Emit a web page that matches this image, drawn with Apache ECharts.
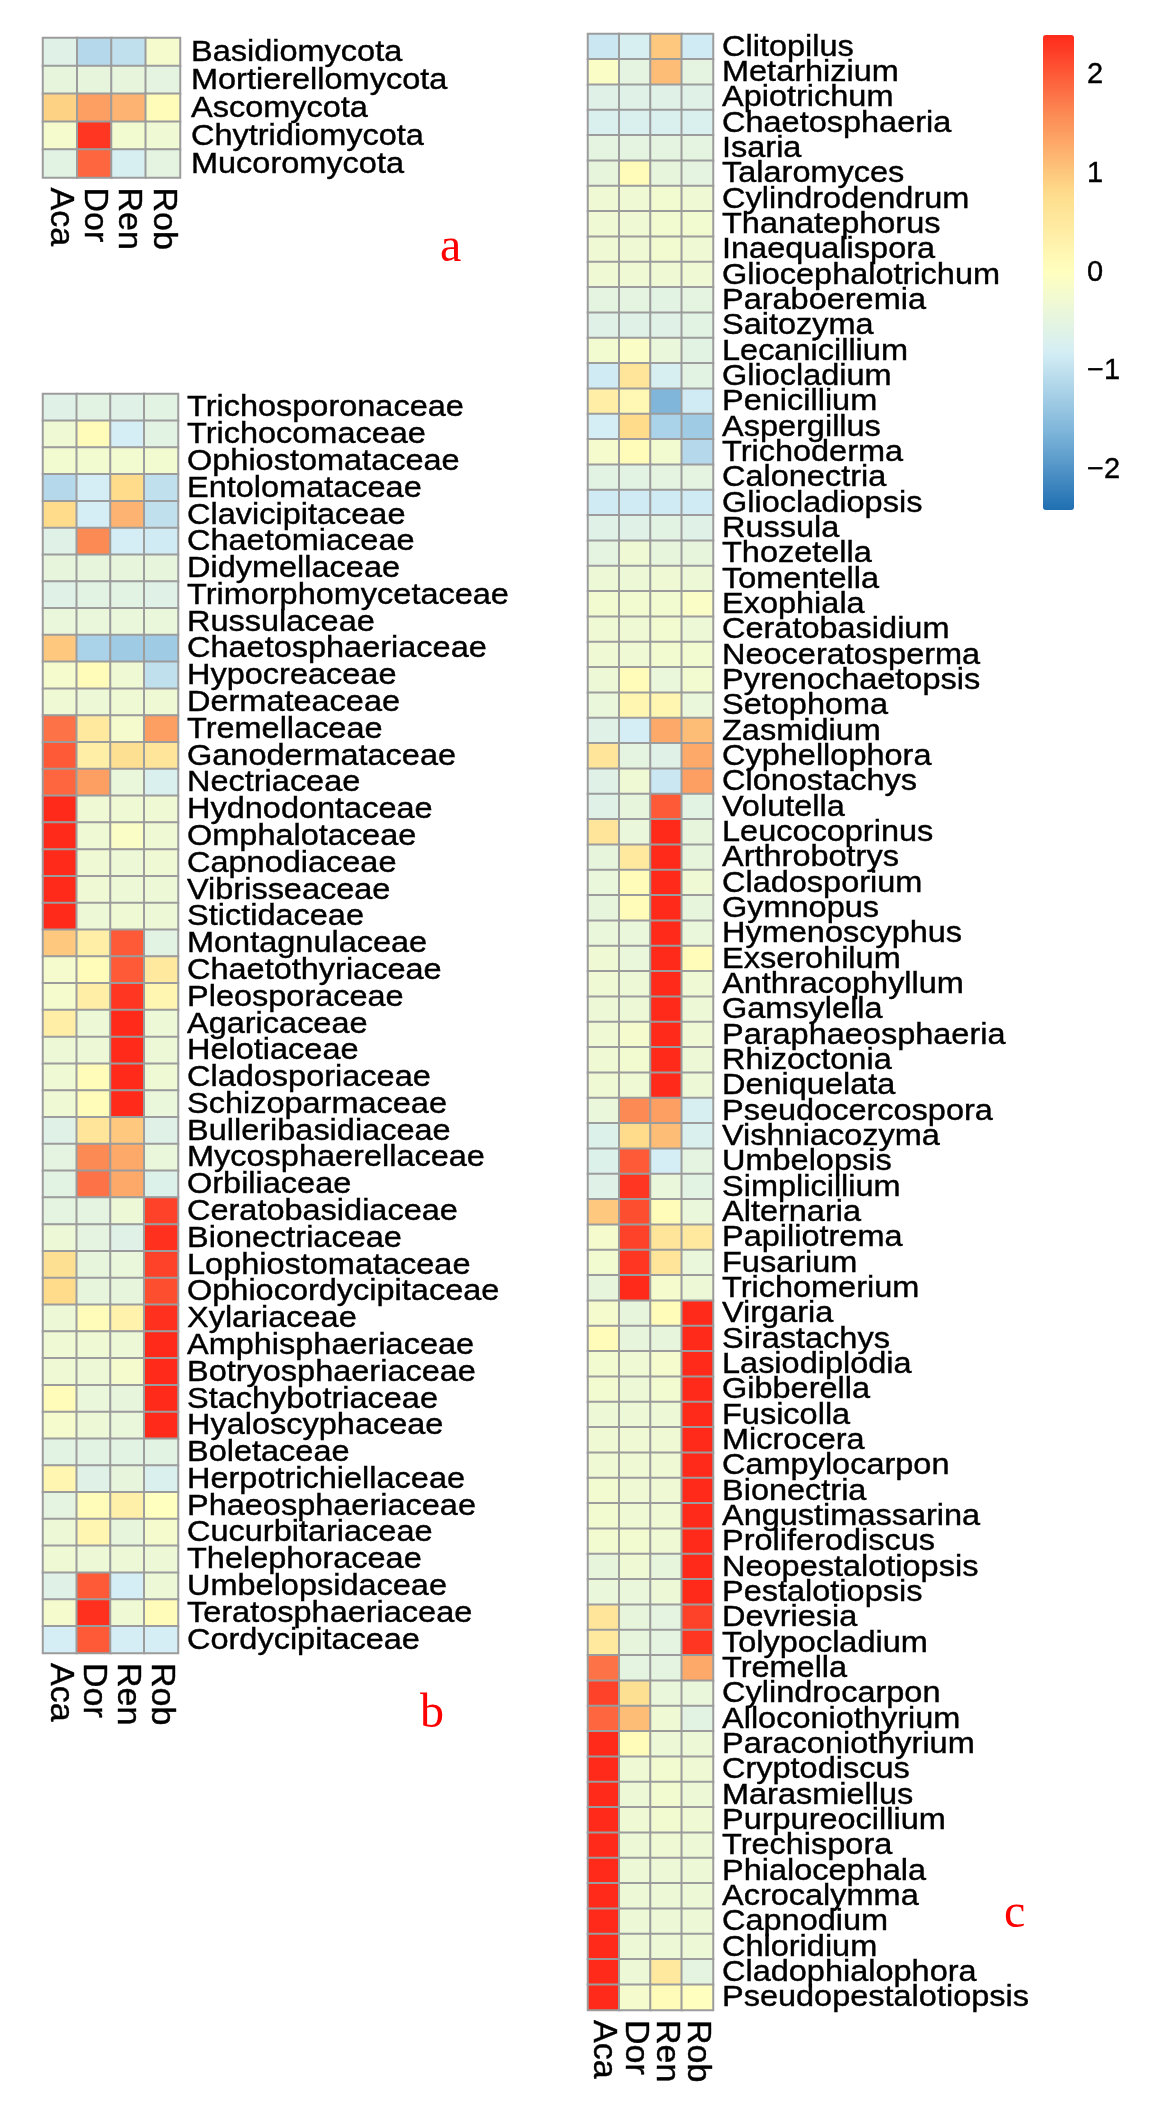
<!DOCTYPE html>
<html style="height: 100%">

<head>
  <meta charset="utf-8">
  <title>heatmap</title>
</head>

<body style="height: 100%; margin: 0; background: #fff">
  <div id="container" style="width: 1156px; height: 2101px"></div>
  <script type="text/javascript" src="https://cdn.jsdelivr.net/npm/echarts@6/dist/echarts.min.js"></script>
  <script type="text/javascript">
    // samples (columns)
    const samples = ['Aca', 'Dor', 'Ren', 'Rob'];

    // a: phylum
    const phylumRows = ['Basidiomycota', 'Mortierellomycota', 'Ascomycota', 'Chytridiomycota', 'Mucoromycota'];
    const phylumValues = [
      [-0.6, -1.1, -1.0, -0.2],
      [-0.45, -0.45, -0.45, -0.5],
      [0.9, 1.4, 1.2, 0.1],
      [-0.2, 2.3, -0.25, -0.3],
      [-0.55, 1.9, -0.75, -0.5]
    ];

    // b: family
    const familyRows = ['Trichosporonaceae', 'Trichocomaceae', 'Ophiostomataceae', 'Entolomataceae', 'Clavicipitaceae',
      'Chaetomiaceae', 'Didymellaceae', 'Trimorphomycetaceae', 'Russulaceae', 'Chaetosphaeriaceae', 'Hypocreaceae',
      'Dermateaceae', 'Tremellaceae', 'Ganodermataceae', 'Nectriaceae', 'Hydnodontaceae', 'Omphalotaceae',
      'Capnodiaceae', 'Vibrisseaceae', 'Stictidaceae', 'Montagnulaceae', 'Chaetothyriaceae', 'Pleosporaceae',
      'Agaricaceae', 'Helotiaceae', 'Cladosporiaceae', 'Schizoparmaceae', 'Bulleribasidiaceae', 'Mycosphaerellaceae',
      'Orbiliaceae', 'Ceratobasidiaceae', 'Bionectriaceae', 'Lophiostomataceae', 'Ophiocordycipitaceae', 'Xylariaceae',
      'Amphisphaeriaceae', 'Botryosphaeriaceae', 'Stachybotriaceae', 'Hyaloscyphaceae', 'Boletaceae',
      'Herpotrichiellaceae', 'Phaeosphaeriaceae', 'Cucurbitariaceae', 'Thelephoraceae', 'Umbelopsidaceae',
      'Teratosphaeriaceae', 'Cordycipitaceae'];
    const familyValues = [
      [-0.6, -0.55, -0.6, -0.55],
      [-0.3, 0.1, -0.8, -0.55],
      [-0.25, -0.25, -0.25, -0.25],
      [-1.1, -0.8, 0.8, -1.0],
      [0.8, -0.8, 1.2, -1.0],
      [-0.6, 1.6, -0.8, -0.85],
      [-0.45, -0.45, -0.45, -0.45],
      [-0.6, -0.55, -0.55, -0.6],
      [-0.4, -0.4, -0.4, -0.4],
      [1.0, -1.2, -1.3, -1.3],
      [-0.2, 0.1, -0.3, -1.0],
      [-0.3, -0.35, -0.3, -0.3],
      [1.8, 0.5, -0.2, 1.4],
      [2.0, 0.4, 0.7, 0.6],
      [1.9, 1.4, -0.4, -0.7],
      [2.4, -0.3, -0.3, -0.3],
      [2.4, -0.3, -0.1, -0.3],
      [2.4, -0.3, -0.35, -0.3],
      [2.4, -0.3, -0.35, -0.35],
      [2.4, -0.35, -0.3, -0.35],
      [1.0, 0.4, 2.0, -0.55],
      [-0.2, 0.1, 2.0, 0.5],
      [-0.2, 0.4, 2.3, 0.2],
      [0.4, -0.35, 2.4, -0.35],
      [-0.35, -0.35, 2.4, -0.35],
      [-0.3, 0.1, 2.4, -0.3],
      [-0.3, 0.1, 2.4, -0.4],
      [-0.6, 0.6, 1.0, -0.6],
      [-0.5, 1.6, 1.3, -0.4],
      [-0.55, 1.8, 1.3, -0.65],
      [-0.5, -0.5, -0.35, 2.2],
      [-0.35, -0.5, -0.6, 2.35],
      [0.7, -0.45, -0.4, 2.2],
      [0.8, -0.45, -0.45, 2.1],
      [-0.35, 0.1, 0.3, 2.35],
      [-0.3, -0.3, -0.35, 2.4],
      [-0.3, -0.35, -0.2, 2.4],
      [0.1, -0.4, -0.45, 2.4],
      [-0.2, -0.35, -0.4, 2.4],
      [-0.55, -0.55, -0.55, -0.55],
      [0.2, -0.6, -0.45, -0.7],
      [-0.5, 0.1, 0.35, 0.0],
      [-0.35, 0.2, -0.45, -0.2],
      [-0.3, -0.35, -0.35, -0.35],
      [-0.6, 2.0, -0.8, -0.35],
      [-0.2, 2.35, -0.3, 0.1],
      [-0.8, 2.0, -0.8, -0.8]
    ];

    // c: genus
    const genusRows = ['Clitopilus', 'Metarhizium', 'Apiotrichum', 'Chaetosphaeria', 'Isaria', 'Talaromyces',
      'Cylindrodendrum', 'Thanatephorus', 'Inaequalispora', 'Gliocephalotrichum', 'Paraboeremia', 'Saitozyma',
      'Lecanicillium', 'Gliocladium', 'Penicillium', 'Aspergillus', 'Trichoderma', 'Calonectria', 'Gliocladiopsis',
      'Russula', 'Thozetella', 'Tomentella', 'Exophiala', 'Ceratobasidium', 'Neoceratosperma', 'Pyrenochaetopsis',
      'Setophoma', 'Zasmidium', 'Cyphellophora', 'Clonostachys', 'Volutella', 'Leucocoprinus', 'Arthrobotrys',
      'Cladosporium', 'Gymnopus', 'Hymenoscyphus', 'Exserohilum', 'Anthracophyllum', 'Gamsylella',
      'Paraphaeosphaeria', 'Rhizoctonia', 'Deniquelata', 'Pseudocercospora', 'Vishniacozyma', 'Umbelopsis',
      'Simplicillium', 'Alternaria', 'Papiliotrema', 'Fusarium', 'Trichomerium', 'Virgaria', 'Sirastachys',
      'Lasiodiplodia', 'Gibberella', 'Fusicolla', 'Microcera', 'Campylocarpon', 'Bionectria', 'Angustimassarina',
      'Proliferodiscus', 'Neopestalotiopsis', 'Pestalotiopsis', 'Devriesia', 'Tolypocladium', 'Tremella',
      'Cylindrocarpon', 'Alloconiothyrium', 'Paraconiothyrium', 'Cryptodiscus', 'Marasmiellus', 'Purpureocillium',
      'Trechispora', 'Phialocephala', 'Acrocalymma', 'Capnodium', 'Chloridium', 'Cladophialophora',
      'Pseudopestalotiopsis'];
    const genusValues = [
      [-0.9, -0.75, 1.0, -0.85],
      [-0.1, -0.5, 1.1, -0.5],
      [-0.6, -0.6, -0.6, -0.6],
      [-0.7, -0.7, -0.7, -0.7],
      [-0.5, -0.5, -0.5, -0.5],
      [-0.45, 0.1, -0.45, -0.5],
      [-0.3, -0.3, -0.25, -0.3],
      [-0.3, -0.3, -0.25, -0.25],
      [-0.3, -0.3, -0.25, -0.3],
      [-0.3, -0.3, -0.3, -0.3],
      [-0.5, -0.5, -0.55, -0.5],
      [-0.6, -0.6, -0.6, -0.55],
      [-0.25, -0.1, -0.4, -0.55],
      [-0.85, 0.6, -0.75, -0.55],
      [0.4, 0.15, -1.6, -0.85],
      [-0.8, 0.8, -1.2, -1.3],
      [-0.2, 0.1, -0.25, -1.1],
      [-0.55, -0.55, -0.5, -0.5],
      [-0.85, -0.85, -0.85, -0.85],
      [-0.6, -0.6, -0.55, -0.6],
      [-0.5, -0.3, -0.45, -0.45],
      [-0.35, -0.35, -0.3, -0.35],
      [-0.25, -0.25, -0.25, -0.1],
      [-0.3, -0.3, -0.25, -0.35],
      [-0.3, -0.3, -0.25, -0.25],
      [-0.35, 0.1, -0.4, -0.25],
      [-0.4, 0.2, 0.2, -0.4],
      [-0.6, -0.8, 1.3, 1.1],
      [0.6, -0.5, -0.6, 1.3],
      [-0.6, -0.3, -0.9, 1.4],
      [-0.6, -0.45, 2.0, -0.55],
      [0.6, -0.4, 2.4, -0.45],
      [-0.45, 0.5, 2.4, -0.45],
      [-0.4, 0.1, 2.4, -0.3],
      [-0.45, 0.1, 2.4, -0.45],
      [-0.4, -0.4, 2.4, -0.4],
      [-0.3, -0.4, 2.4, 0.1],
      [-0.3, -0.35, 2.4, -0.3],
      [-0.35, -0.35, 2.4, -0.35],
      [-0.3, -0.2, 2.4, -0.3],
      [-0.3, -0.25, 2.4, -0.35],
      [-0.3, -0.3, 2.4, -0.35],
      [-0.4, 1.6, 1.4, -0.75],
      [-0.65, 0.8, 1.1, -0.7],
      [-0.65, 2.0, -0.8, -0.5],
      [-0.6, 2.3, -0.4, -0.55],
      [1.0, 2.1, 0.1, -0.4],
      [-0.2, 2.2, 0.6, 0.5],
      [-0.25, 2.3, 0.6, -0.4],
      [-0.45, 2.4, -0.2, -0.35],
      [-0.2, -0.45, 0.1, 2.4],
      [0.1, -0.45, -0.45, 2.4],
      [-0.25, -0.3, -0.2, 2.4],
      [-0.25, -0.35, -0.25, 2.4],
      [-0.35, -0.35, -0.35, 2.4],
      [-0.3, -0.3, -0.3, 2.4],
      [-0.3, -0.3, -0.3, 2.4],
      [-0.25, -0.3, -0.3, 2.4],
      [-0.25, -0.3, -0.3, 2.4],
      [-0.25, -0.25, -0.3, 2.4],
      [-0.45, -0.3, -0.45, 2.4],
      [-0.4, -0.4, -0.35, 2.4],
      [0.6, -0.45, -0.5, 2.2],
      [0.5, -0.45, -0.5, 2.3],
      [1.8, -0.5, -0.5, 1.3],
      [2.2, 0.7, -0.4, -0.4],
      [1.9, 1.1, -0.3, -0.55],
      [2.4, 0.1, -0.35, -0.35],
      [2.4, -0.3, -0.25, -0.3],
      [2.4, -0.35, -0.25, -0.35],
      [2.4, -0.3, -0.25, -0.3],
      [2.4, -0.35, -0.3, -0.35],
      [2.4, -0.35, -0.35, -0.35],
      [2.4, -0.35, -0.35, -0.35],
      [2.4, -0.35, -0.35, -0.35],
      [2.4, -0.35, -0.35, -0.35],
      [2.4, -0.35, 0.5, -0.5],
      [2.4, -0.2, 0.1, 0.0]
    ];

    // colour key
    const scaleMin = -2.4;
    const scaleMax = 2.4;
    const legendTicks = [-2, -1, 0, 1, 2];

    let dom = document.getElementById('container');
    let myChart = echarts.init(dom, null, { renderer: 'canvas' });

    const font = 'Liberation Sans';
    const ink = '#000';

    // [col, row, value] triples for the heatmap
    function cells(values) {
      const out = [];
      values.forEach((row, i) => row.forEach((v, j) => out.push([j, i, v])));
      return out;
    }

    function sampleAxis(gridIndex) {
      return {
        type: 'category', gridIndex, data: samples, position: 'bottom',
        axisLine: { show: false }, axisTick: { show: false }, splitLine: { show: false },
        axisLabel: {
          interval: 0, rotate: -90, margin: 10, fontSize: 34, color: ink, fontFamily: font,
          textBorderColor: ink, textBorderWidth: 0.4
        }
      };
    }

    // row labels drawn by a custom series so they can be stretched a bit like the original
    function rowAxis(gridIndex, rows) {
      return {
        type: 'category', gridIndex, data: rows, inverse: true, position: 'right',
        axisLine: { show: false }, axisTick: { show: false }, splitLine: { show: false },
        axisLabel: { show: false }
      };
    }

    function heat(idx, values) {
      return {
        type: 'heatmap', xAxisIndex: idx, yAxisIndex: idx, data: cells(values),
        itemStyle: { borderColor: '#9c9c9c', borderWidth: 2 },
        emphasis: { disabled: true }
      };
    }

    function rowLabels(idx, rows, gap) {
      return {
        type: 'custom', xAxisIndex: idx, yAxisIndex: idx, silent: true,
        data: rows.map((r, i) => [samples.length - 1, i]),
        renderItem: (params, api) => {
          const p = api.coord([api.value(0), api.value(1)]);
          const s = api.size([1, 1]);
          return {
            type: 'text', x: p[0] + s[0] / 2 + gap, y: p[1] + 1, scaleX: 1.12,
            style: {
              text: rows[params.dataIndex], fontSize: 29, fontFamily: font, fill: ink,
              stroke: ink, lineWidth: 0.4, align: 'left', verticalAlign: 'middle'
            }
          };
        }
      };
    }

    const panelLetter = (text, x, y) => ({
      type: 'text', x, y,
      style: { text, fill: '#ff0000', font: '48px "Liberation Serif"', textVerticalAlign: 'bottom' }
    });

    let option = {
      backgroundColor: '#ffffff',
      animation: false,
      grid: [
        { left: 43, top: 38, width: 137, height: 139.5 },
        { left: 43, top: 394, width: 135, height: 1259 },
        { left: 588, top: 34, width: 125, height: 1976 },
        { left: 1043, top: 35, width: 31, height: 475 }
      ],
      xAxis: [
        sampleAxis(0), sampleAxis(1), sampleAxis(2),
        { type: 'value', gridIndex: 3, show: false, min: 0, max: 1 }
      ],
      yAxis: [
        rowAxis(0, phylumRows), rowAxis(1, familyRows), rowAxis(2, genusRows),
        {
          type: 'value', gridIndex: 3, min: scaleMin, max: scaleMax, position: 'right',
          axisLine: { show: false }, axisTick: { show: false }, splitLine: { show: false },
          axisLabel: {
            customValues: legendTicks, margin: 13, fontSize: 29, color: ink, fontFamily: font,
            textBorderColor: ink, textBorderWidth: 0.4,
            formatter: v => (v < 0 ? '\u2212' + Math.abs(v) : String(v))
          }
        }
      ],
      visualMap: {
        type: 'continuous', min: scaleMin, max: scaleMax, seriesIndex: [0, 1, 2],
        calculable: false, left: 1043, top: 35, padding: 0,
        itemWidth: 31, itemHeight: 475, text: null, showLabel: false,
        inRange: { color: ['#1f6fb2', '#7fb6da', '#d5eef5', '#ffffbf', '#fedc8c', '#fc8a55', '#ff2a1a'] }
      },
      series: [
        heat(0, phylumValues),
        heat(1, familyValues),
        heat(2, genusValues),
        rowLabels(0, phylumRows, 11),
        rowLabels(1, familyRows, 9),
        rowLabels(2, genusRows, 9)
      ],
      graphic: [
        panelLetter('a', 440, 272),
        panelLetter('b', 420, 1738),
        panelLetter('c', 1004, 1938)
      ]
    };

    myChart.setOption(option);
  </script>
</body>

</html>
